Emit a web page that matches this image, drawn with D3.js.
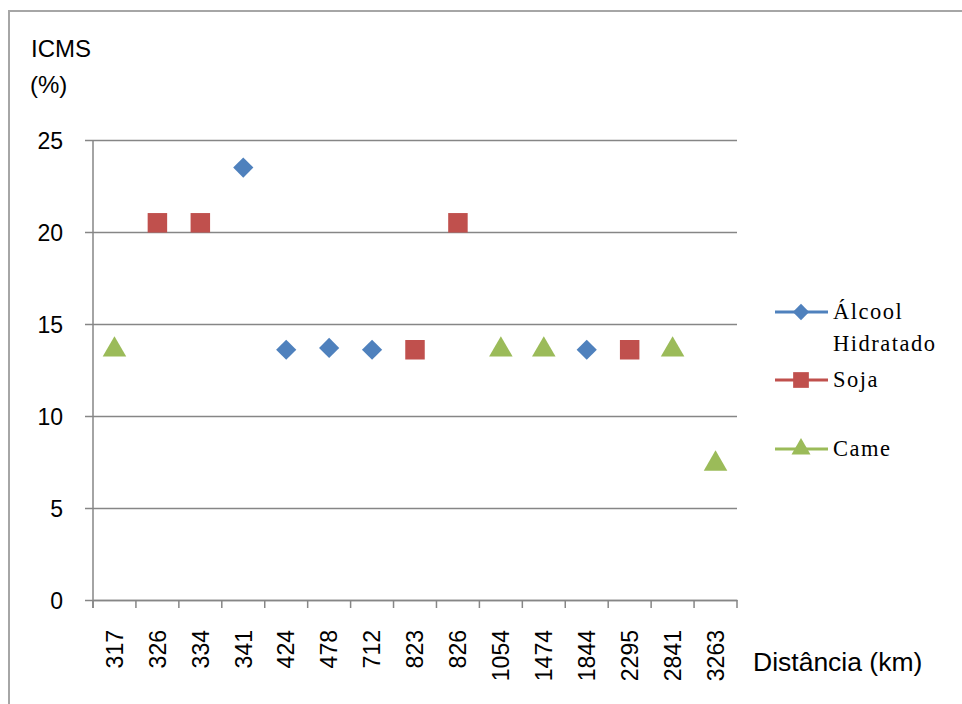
<!DOCTYPE html>
<html>
<head>
<meta charset="utf-8">
<script src="https://cdn.jsdelivr.net/npm/d3@7"></script>
<style>
  html, body { margin: 0; padding: 0; background: #fff; }
  svg { display: block; }
</style>
</head>
<body>
<svg id="chart" width="962" height="704"></svg>
<script>
const categories = ["317","326","334","341","424","478","712","823","826","1054","1474","1844","2295","2841","3263"];
const alcoolValues = [null,null,null,23.5,13.6,13.7,13.6,null,null,null,null,13.6,null,null,null];
const sojaValues   = [null,20.5,20.5,null,null,null,null,13.6,20.5,null,null,null,13.6,null,null];
const carneValues  = [13.6,null,null,null,null,null,null,null,null,13.6,13.6,null,null,13.6,7.4];
const yTicks = [0,5,10,15,20,25];
const seriesNames = ["Álcool Hidratado","Soja","Came"];

(function () {
const series = [
  {name: seriesNames[0], values: alcoolValues, color: "#4F81BD", symbol: d3.symbolDiamond2, size: 260, legendLines: ["Álcool","Hidratado"]},
  {name: seriesNames[1], values: sojaValues, color: "#C0504D", symbol: d3.symbolSquare, size: 380, legendLines: ["Soja"]},
  {name: seriesNames[2], values: carneValues, color: "#9BBB59", symbol: d3.symbolTriangle, size: 240, legendLines: ["Came"]}
];

const svg = d3.select("#chart");
const mLeft = 93, mRight = 737, mTop = 140, mBottom = 600;

// outer frame
svg.append("rect").attr("x", 9).attr("y", 11).attr("width", 980).attr("height", 720)
  .attr("fill", "none").attr("stroke", "#a6a6a6").attr("stroke-width", 2);

const x = d3.scaleBand().domain(categories).range([mLeft, mRight]).padding(0);
const y = d3.scaleLinear().domain([0, 25]).range([mBottom, mTop]);

const gridColor = "#868686";

// y axis with gridlines
const yAxis = svg.append("g").attr("transform", `translate(${mLeft},0)`)
  .call(d3.axisLeft(y).tickValues(yTicks).tickSize(8).tickPadding(22).tickFormat(d3.format("d")));
yAxis.select(".domain").remove();
yAxis.selectAll(".tick line").attr("stroke", gridColor).attr("stroke-width", 1.5)
  .attr("x1", -8).attr("x2", mRight - mLeft);
yAxis.selectAll(".tick text").attr("font-family", "'Liberation Sans', Arial, sans-serif")
  .attr("font-size", 23).attr("fill", "#000").attr("dy", "0.36em");

// y axis line
svg.append("line").attr("x1", mLeft).attr("x2", mLeft).attr("y1", mTop).attr("y2", mBottom + 8)
  .attr("stroke", gridColor).attr("stroke-width", 1.5);

// x axis
const xAxis = svg.append("g").attr("transform", `translate(0,${mBottom})`)
  .call(d3.axisBottom(x).tickSize(0).tickPadding(0));
xAxis.select(".domain").attr("stroke", gridColor).attr("stroke-width", 1.5);
xAxis.selectAll(".tick line").remove();
xAxis.selectAll(".tick text")
  .attr("font-family", "'Liberation Sans', Arial, sans-serif").attr("font-size", 23).attr("fill", "#000")
  .attr("text-anchor", "end").attr("transform", "rotate(-90)")
  .attr("x", -30).attr("y", 0).attr("dy", "0.36em");
// boundary tick marks between categories
const boundaries = categories.map(c => x(c)).concat([x(categories[categories.length-1]) + x.bandwidth()]);
svg.append("g").selectAll("line").data(boundaries).join("line")
  .attr("x1", d => d).attr("x2", d => d).attr("y1", mBottom).attr("y2", mBottom + 8)
  .attr("stroke", gridColor).attr("stroke-width", 1.5);

// markers
series.forEach(s => {
  const sym = d3.symbol().type(s.symbol).size(s.size);
  svg.append("g").selectAll("path")
    .data(s.values.map((v, i) => ({v, c: categories[i]})).filter(d => d.v != null))
    .join("path")
    .attr("d", sym)
    .attr("transform", d => `translate(${x(d.c) + x.bandwidth()/2},${y(d.v)})`)
    .attr("fill", s.color);
});

// axis titles
const ylab = svg.append("text").attr("font-family", "'Liberation Sans', Arial, sans-serif")
  .attr("font-size", 24).attr("fill", "#000");
ylab.append("tspan").attr("x", 31).attr("y", 57).text("ICMS");
ylab.append("tspan").attr("x", 30).attr("y", 93).text("(%)");

svg.append("text").attr("x", 753).attr("y", 671)
  .attr("font-family", "'Liberation Sans', Arial, sans-serif").attr("font-size", 26.5).attr("fill", "#000")
  .text("Distância (km)");

// legend
const legendY = [312, 380, 449];
series.forEach((s, i) => {
  const g = svg.append("g").attr("transform", `translate(0,${legendY[i]})`);
  g.append("line").attr("x1", 775).attr("x2", 828).attr("y1", 0).attr("y2", 0)
    .attr("stroke", s.color).attr("stroke-width", 3);
  g.append("path").attr("d", d3.symbol().type(s.symbol).size(s.size * 0.65)())
    .attr("transform", "translate(801,0)").attr("fill", s.color);
  const t = g.append("text").attr("font-family", "'Liberation Serif', 'Times New Roman', serif")
    .attr("font-size", 22.5).attr("letter-spacing", 1.5).attr("fill", "#000");
  s.legendLines.forEach((ln, j) => {
    t.append("tspan").attr("x", 833).attr("y", 7 + j * 32).text(ln);
  });
});
})();
</script>
</body>
</html>
